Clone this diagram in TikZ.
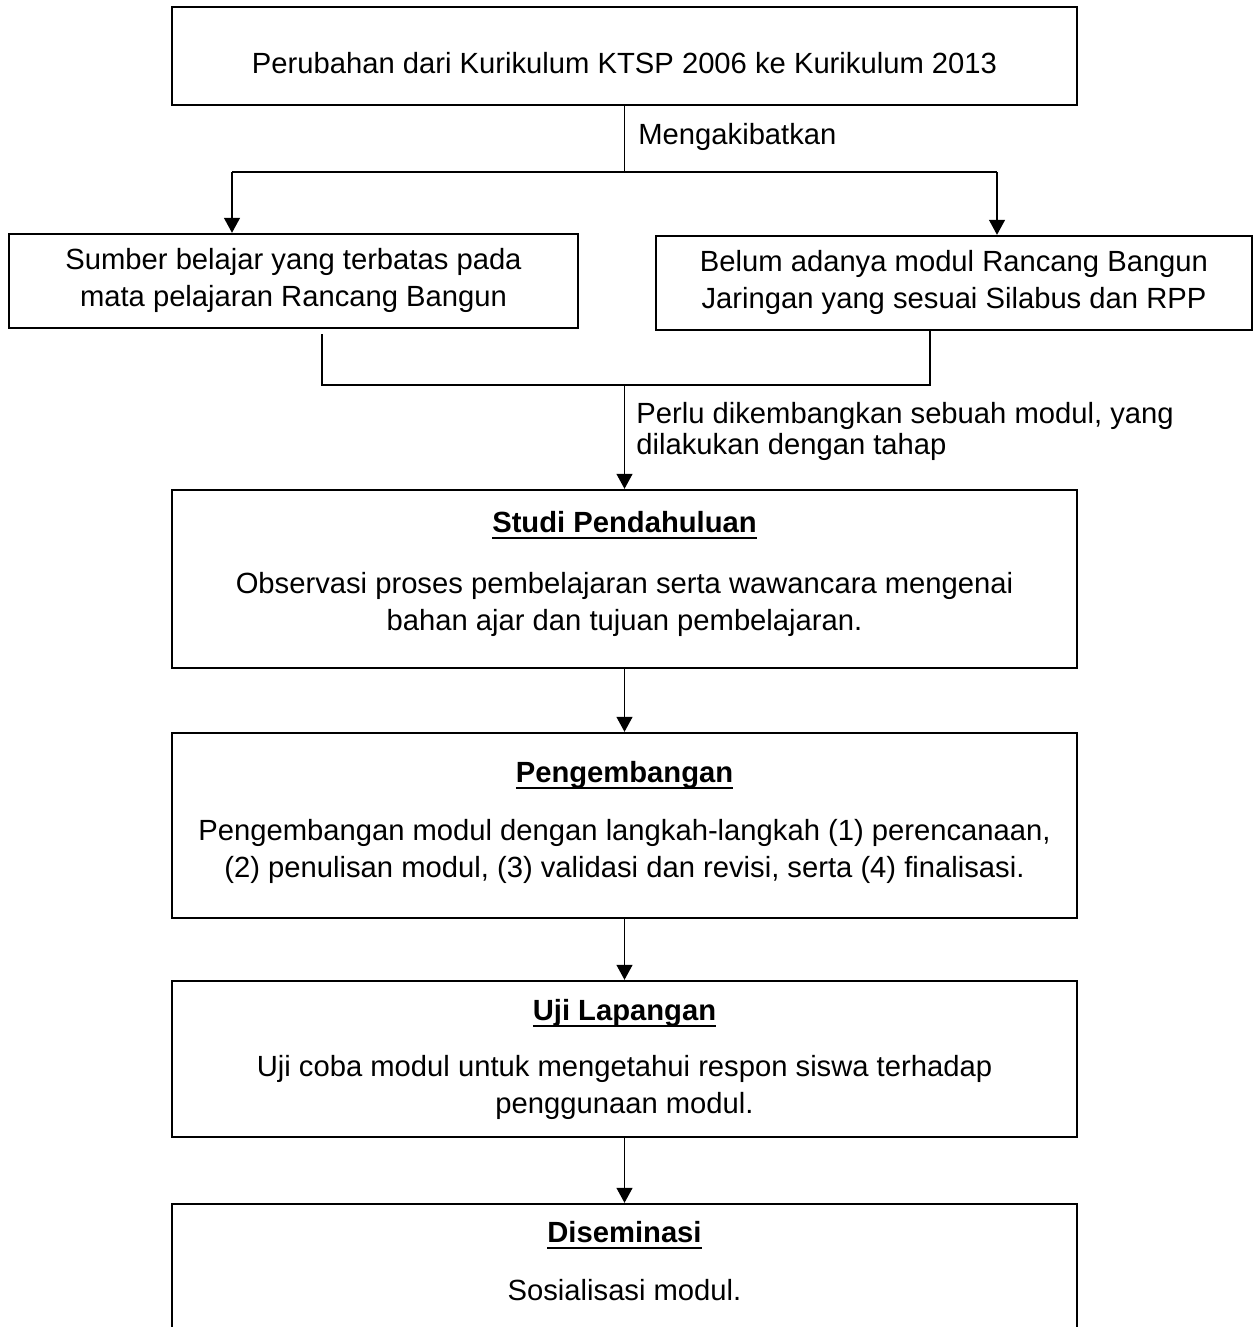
\documentclass[tikz,border=0pt]{standalone}
\usepackage{fontspec}
\setmainfont{Liberation Sans}
\usetikzlibrary{arrows.meta,positioning}
% thick rule under the stage titles
\newcommand{\ulhead}[1]{\setbox0\hbox{#1}\rlap{\rule[-3.7pt]{\wd0}{1.4pt}}\box0}
\tikzset{
  stagebox/.style 2 args={draw, line width=1.2pt, inner sep=0pt,
    minimum width=#1*0.5pt, minimum height=#2*0.5pt},
  txt/.style={font=\fontsize{14.6}{18.5}\selectfont, align=center, inner sep=0pt},
  head/.style={txt, font=\fontsize{14.6}{18.5}\selectfont\bfseries, anchor=base},
  body/.style={txt, anchor=base},
  link/.style={line width=0.65pt},
  flow/.style={link, -{Triangle[length=7.5pt,width=8pt]}}
}
\begin{document}
\begin{tikzpicture}[x=0.5pt,y=-0.5pt]
\path[use as bounding box] (0,0) rectangle (1253,1327);
\clip (0,0) rectangle (1253,1327);

% top box and the two causes
\node[stagebox={905}{98}, txt, text height=18pt, text depth=0pt] (kur) at (624.5,56)
  {Perubahan dari Kurikulum KTSP 2006 ke Kurikulum 2013};
\node[stagebox={569}{94}, txt, text depth=4pt] (sumber) at (293.5,281)
  {Sumber belajar yang terbatas pada\\mata pelajaran Rancang Bangun};
\node[stagebox={596}{94}, txt, text depth=4pt] (modul) at (954,283)
  {Belum adanya modul Rancang Bangun\\Jaringan yang sesuai Silabus dan RPP};

\coordinate (fork) at (624.5,172);
\coordinate (forkL) at (232,172);
\coordinate (forkR) at (997,172);
\draw[link] (kur) -- (fork);
\draw[link] (forkL) -- (forkR);
\draw[flow] (forkL) -- (forkL |- sumber.north);
\draw[flow] (forkR) -- (forkR |- modul.north);
\node[txt, anchor=base west] (akibat) at (638,145) {Mengakibatkan};

% the four stages (base = last line)
\node[stagebox={905}{178}] (studi) at (624.5,579) {};
\node[head] (studi-h) at (624.5,532) {\ulhead{Studi Pendahuluan}};
\node[body] (studi-b) at (624.5,630)
  {Observasi proses pembelajaran serta wawancara mengenai\\bahan ajar dan tujuan pembelajaran.};

\node[stagebox={905}{185}] (kembang) at (624.5,825.5) {};
\node[head] (kembang-h) at (624.5,782) {\ulhead{Pengembangan}};
\node[body] (kembang-b) at (624.5,877)
  {Pengembangan modul dengan langkah-langkah (1) perencanaan,\\(2) penulisan modul, (3) validasi dan revisi, serta (4) finalisasi.};

\node[stagebox={905}{156}] (uji) at (624.5,1059) {};
\node[head] (uji-h) at (624.5,1020) {\ulhead{Uji Lapangan}};
\node[body] (uji-b) at (624.5,1113)
  {Uji coba modul untuk mengetahui respon siswa terhadap\\penggunaan modul.};

\node[stagebox={905}{200}] (sebar) at (624.5,1304) {};
\node[head] (sebar-h) at (624.5,1242) {\ulhead{Diseminasi}};
\node[body] (sebar-b) at (624.5,1300) {Sosialisasi modul.};

% joining the two causes
\coordinate (joinL) at (322,385);
\coordinate (joinR) at (930,385);
\coordinate (join) at (624.5,385);
\draw[link] ([yshift=-2.5pt]sumber.south -| joinL) -- (joinL) -- (joinR) -- (modul.south -| joinR);
\draw[flow] (join) -- (studi);
\node[txt, align=left, anchor=base west,
  font=\fontsize{14.6}{15.5}\selectfont] (perlu) at (636,454)
  {Perlu dikembangkan sebuah modul, yang\\dilakukan dengan tahap};

\draw[flow] (studi) -- (kembang);
\draw[flow] (kembang) -- (uji);
\draw[flow] (uji) -- (sebar);
\end{tikzpicture}
\end{document}
